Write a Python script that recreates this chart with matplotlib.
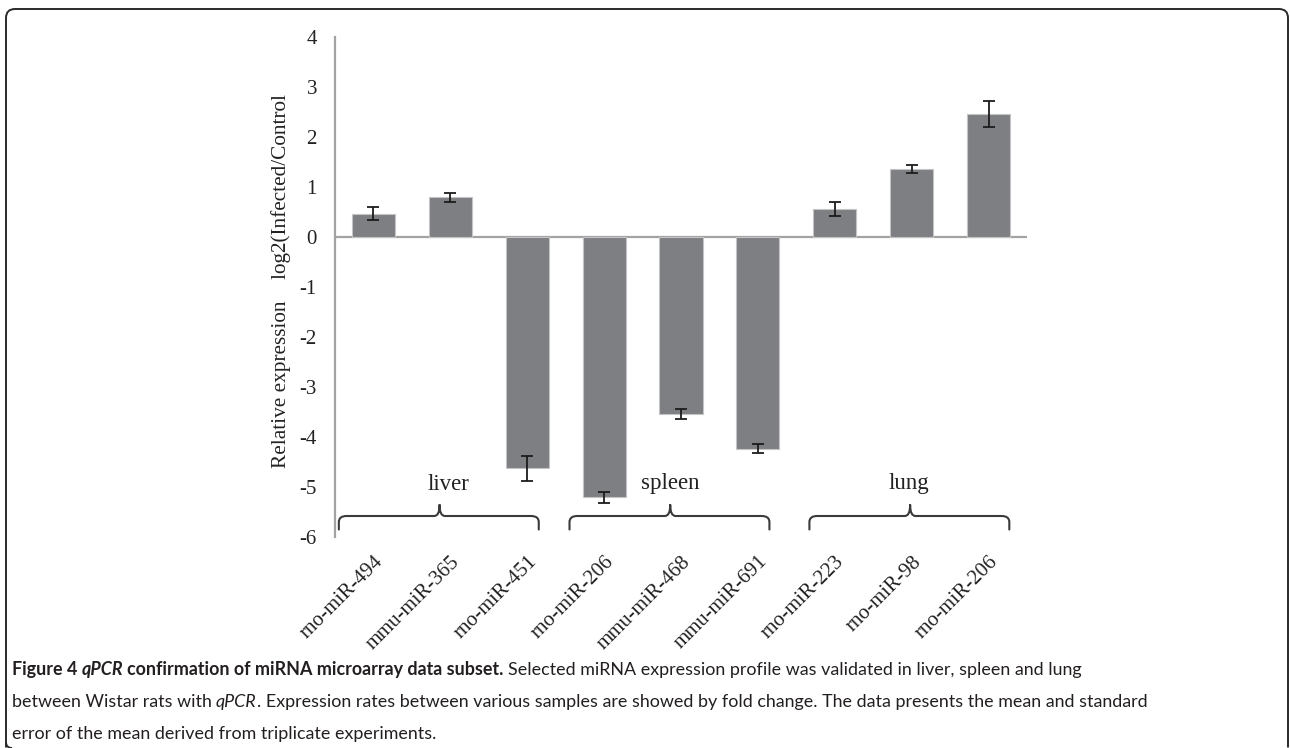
import matplotlib
matplotlib.use("Agg")
import matplotlib.pyplot as plt
import numpy as np
from matplotlib.path import Path
from matplotlib.patches import PathPatch

# miRNAs validated by qPCR, grouped by tissue
mirnas = ["rno-miR-494", "mmu-miR-365", "rno-miR-451",
          "rno-miR-206", "mmu-miR-468", "mmu-miR-691",
          "rno-miR-223", "rno-miR-98", "rno-miR-206"]
log2_fc = [0.46, 0.79, -4.63, -5.21, -3.54, -4.23, 0.55, 1.36, 2.45]
sem = [0.13, 0.09, 0.25, 0.11, 0.10, 0.09, 0.14, 0.08, 0.26]
tissues = ["liver", "spleen", "lung"]
yticks = [4, 3, 2, 1, 0, -1, -2, -3, -4, -5, -6]

W, H = 1290, 748
SERIF = "Liberation Serif"
SANS = "Lato"

fig = plt.figure(figsize=(W / 100, H / 100), dpi=100)


def px_rect(x0, y0, x1, y1):
    return [x0 / W, 1 - y1 / H, (x1 - x0) / W, (y1 - y0) / H]


ax = fig.add_axes(px_rect(335, 37, 1027, 537))
x = np.arange(len(mirnas))
ax.bar(x, log2_fc, width=0.56, color="#7e7f83", edgecolor="#c4c4c4",
       linewidth=0.8, zorder=2)
ax.errorbar(x, log2_fc, yerr=sem, fmt="none", ecolor="#1c1c1c",
            elinewidth=1.3, capsize=4.5, capthick=1.3, zorder=3)
ax.set_xlim(-0.5, 8.5)
ax.set_ylim(-6, 4)
ax.axhline(0, color="#a3a3a3", lw=1.6, zorder=1)
for s in ["top", "right", "bottom"]:
    ax.spines[s].set_visible(False)
ax.spines["left"].set_color("#a3a3a3")
ax.spines["left"].set_linewidth(1.6)

ax.set_yticks(yticks)
ax.set_yticklabels([str(v) for v in yticks], family=SERIF, fontsize=15,
                   color="#222222")
ax.tick_params(axis="y", length=0, pad=13)
ax.set_xticks(x)
ax.set_xticklabels(mirnas, rotation=45, ha="right", va="top",
                   rotation_mode="anchor", family=SERIF, fontsize=15,
                   color="#222222")
ax.tick_params(axis="x", length=0, pad=11)

fig.text(281 / W, 1 - 281 / H, "Relative expression    log2(Infected/Control",
         rotation=90, ha="center", va="center", family=SERIF, fontsize=15.3,
         color="#222222")

# curly braces grouping the miRNAs by tissue
brace_left = [-0.45, 2.55, 5.67]
brace_right = [2.15, 5.15, 8.27]
brace_peak = [0.86, 3.86, 6.98]
label_x = [0.97, 3.86, 6.96]
y_end, y_bar, y_tip, y_lab = -5.85, -5.58, -5.36, -4.94
rx, ry, cx = 0.1, 0.12, 0.07

for L, R, P, lx, name in zip(brace_left, brace_right, brace_peak, label_x, tissues):
    verts = [(L, y_end), (L, y_bar - ry), (L, y_bar), (L + rx, y_bar),
             (P - cx, y_bar), (P, y_bar), (P, y_tip),
             (P, y_tip), (P, y_bar), (P + cx, y_bar),
             (R - rx, y_bar), (R, y_bar), (R, y_bar - ry), (R, y_end)]
    codes = [Path.MOVETO, Path.LINETO, Path.CURVE3, Path.CURVE3,
             Path.LINETO, Path.CURVE3, Path.CURVE3,
             Path.MOVETO, Path.CURVE3, Path.CURVE3,
             Path.LINETO, Path.CURVE3, Path.CURVE3, Path.LINETO]
    ax.add_patch(PathPatch(Path(verts, codes), fill=False, edgecolor="#3a3a3a",
                           lw=1.5, clip_on=False, capstyle="round",
                           joinstyle="round"))
    ax.text(lx, y_lab, name, ha="center", va="center", family=SERIF,
            fontsize=16.5, color="#222222")

# rounded frame around the figure
fx0, fy0, fx1, fy1, rr = 6, 9, 1288, 748, 9
fverts = [(fx0, fy1 - 0.5), (fx0, fy0 + rr), (fx0, fy0), (fx0 + rr, fy0),
          (fx1 - rr, fy0), (fx1, fy0), (fx1, fy0 + rr), (fx1, fy1 - 0.5)]
fcodes = [Path.MOVETO, Path.LINETO, Path.CURVE3, Path.CURVE3,
          Path.LINETO, Path.CURVE3, Path.CURVE3, Path.LINETO]
fverts = [(a / W, 1 - b / H) for a, b in fverts]
fig.add_artist(PathPatch(Path(fverts, fcodes), fill=False, edgecolor="#2a2a2a",
                         lw=1.4, transform=fig.transFigure))
bl = [(fx0, fy1 - 6), (fx0, fy1), (fx0 + 6, fy1)]
fig.add_artist(PathPatch(Path([(a / W, 1 - b / H) for a, b in bl],
                              [Path.MOVETO, Path.CURVE3, Path.CURVE3]),
                         fill=False, edgecolor="#2a2a2a", lw=1.4,
                         transform=fig.transFigure))

# caption
renderer = fig.canvas.get_renderer()
lines = [
    [("Figure 4", "bold", "normal"), ("qPCR", "bold", "italic"),
     ("confirmation of miRNA microarray data subset.", "bold", "normal"),
     ("Selected miRNA expression profile was validated in liver, spleen and lung", "normal", "normal")],
    [("between Wistar rats with", "normal", "normal"), ("qPCR", "normal", "italic"),
     ("NOSPACE. Expression rates between various samples are showed by fold change. The data presents the mean and standard", "normal", "normal")],
    [("error of the mean derived from triplicate experiments.", "normal", "normal")],
]


def measure(s, size, weight, style):
    t = fig.text(0, 0, s, fontsize=size, fontweight=weight, fontstyle=style,
                 family=SANS)
    w = t.get_window_extent(renderer).width
    t.remove()
    return w


def layout(pieces, size, x0=None, y_base=None):
    xcur = 0 if x0 is None else x0
    for i, (s, weight, style) in enumerate(pieces):
        nospace = s.startswith("NOSPACE")
        s = s.replace("NOSPACE", "")
        if i > 0 and not nospace:
            xcur += measure("a a", size, weight, style) - measure("aa", size, weight, style)
        if x0 is not None:
            fig.text(xcur / W, 1 - y_base / H, s, fontsize=size,
                     fontweight=weight, fontstyle=style, family=SANS,
                     va="baseline", ha="left", color="#231f20")
        xcur += measure(s, size, weight, style)
    return xcur


base = 10.0
w2 = layout(lines[1], base)
cap_size = base * 1130 / w2
for pieces, yb in zip(lines, [675, 707, 739]):
    layout(pieces, cap_size, x0=12, y_base=yb)

fig.savefig("out.png", dpi=100)
